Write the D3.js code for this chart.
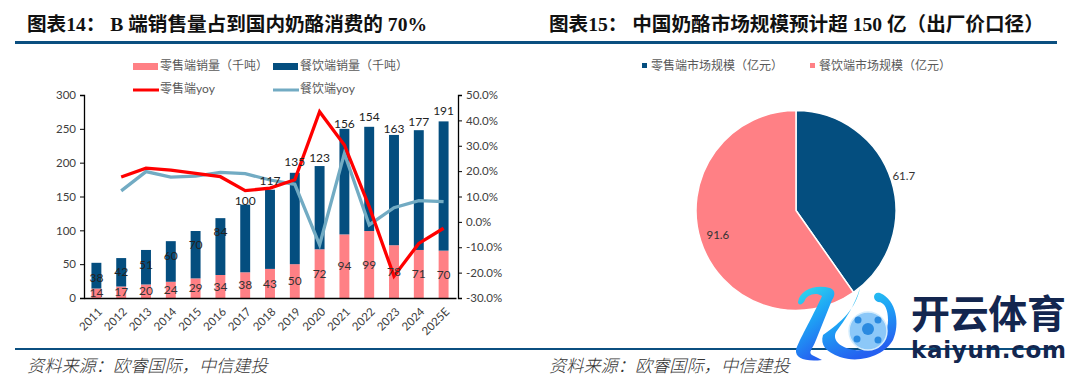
<!DOCTYPE html>
<html>
<head>
<meta charset="utf-8">
<script src="https://cdn.jsdelivr.net/npm/d3@7"></script>
<style>
  html, body { margin: 0; padding: 0; background: #fff; }
  svg { display: block; }
  text { font-family: Lato, "Noto Sans CJK SC", sans-serif; }
</style>
</head>
<body>
<div class="main"></div>
<script>
let years = ['2011','2012','2013','2014','2015','2016','2017','2018','2019','2020','2021','2022','2023','2024','2025E']
let retailSales = [14,17,20,24,29,34,38,43,50,72,94,99,78,71,70]
let foodSales = [38,42,51,60,70,84,100,117,135,123,156,154,163,177,191]
let retailYoy = [null,17.7,21.2,20.4,19.1,17.8,12.3,13.3,16.6,43.4,30.3,6,-21.4,-8.5,-2.5]
let foodYoy = [null,12.2,19.8,17.6,18,19.5,19,16.5,14.8,-9.1,27,-1.2,5.6,8.4,8]
let leftTicks = [0,50,100,150,200,250,300]
let rightTicks = [-30,-20,-10,0,10,20,30,40,50]
let pieNames = ['零售端市场规模（亿元）','餐饮端市场规模（亿元）']
let pieValues = [61.7,91.6]

// the labels were dragged around by hand in the original
let foodLabelNudge = [2,0,-2,-6,-10,-15,-4,-9,-11,-8,-5,-10,-6,-8,-11]
let pieLabelRadius = [113, 82]

let navy = '#044e7f', pink = '#ff8085', red = '#ff0000', teal = '#72abc3'
let grey = '#333333', legendGrey = '#595959', ruleBlue = '#0b4f80'

let svg = d3.select('.main').append('svg').attr('width', 1080).attr('height', 384)

// rules run the full width under both headers
svg.append('rect').attr('x', 15).attr('y', 41).attr('width', 1042).attr('height', 3).attr('fill', ruleBlue)
svg.append('rect').attr('x', 15).attr('y', 348).attr('width', 1042).attr('height', 2).attr('fill', ruleBlue)

function header(x, title) {
  svg.append('text').attr('x', x).attr('y', 31)
    .attr('font-size', 19.6).attr('font-weight', 700).attr('fill', '#111')
    .style('font-family', '"Liberation Serif", "Noto Sans CJK SC", serif')
    .text(title)
  svg.append('text').attr('x', x).attr('y', 372)
    .attr('font-size', 17.2).attr('font-style', 'italic').attr('font-weight', 300).attr('fill', '#333')
    .style('font-family', '"Noto Sans CJK SC", sans-serif')
    .text('资料来源：欧睿国际，中信建投')
}
header(27, '图表14：  B 端销售量占到国内奶酪消费的 70%')
header(549, '图表15：  中国奶酪市场规模预计超 150 亿（出厂价口径）')

// left chart
let x = d3.scaleBand().domain(years).range([84, 456]).paddingInner(0.6).paddingOuter(0.3)
let y = d3.scaleLinear().domain([0, 300]).range([298, 95])
let yRight = d3.scaleLinear().domain([-30, 50]).range([298, 95])

let stackData = years.map((d, i) => ({year: d, retail: retailSales[i], food: foodSales[i], nudge: foodLabelNudge[i], i: i}))

svg.append('g').selectAll('rect').data(stackData).enter().append('rect')
  .attr('x', d => x(d.year))
  .attr('width', x.bandwidth())
  .attr('y', d => y(d.retail))
  .attr('height', d => y(0) - y(d.retail))
  .attr('fill', pink)

svg.append('g').selectAll('rect').data(stackData).enter().append('rect')
  .attr('x', d => x(d.year))
  .attr('width', x.bandwidth())
  .attr('y', d => y(d.retail + d.food))
  .attr('height', d => y(0) - y(d.food))
  .attr('fill', navy)

let line = d3.line()
  .defined(d => d[1] !== null)
  .x(d => x(d[0]) + x.bandwidth() / 2)
  .y(d => yRight(d[1]))

svg.append('path').datum(years.map((d, i) => [d, foodYoy[i]]))
  .attr('d', line).attr('fill', 'none').attr('stroke', teal).attr('stroke-width', 3.3)
svg.append('path').datum(years.map((d, i) => [d, retailYoy[i]]))
  .attr('d', line).attr('fill', 'none').attr('stroke', red).attr('stroke-width', 3.3)

svg.append('g').selectAll('text').data(stackData).enter().append('text')
  .attr('x', d => x(d.year) + x.bandwidth() / 2)
  .attr('y', d => y(d.retail / 2))
  .attr('dy', '0.35em').attr('text-anchor', 'middle').attr('font-size', 12).attr('fill', grey)
  .text(d => d.retail)

svg.append('g').selectAll('text').data(stackData).enter().append('text')
  .attr('x', d => x(d.year) + x.bandwidth() / 2)
  .attr('y', d => (d.i < 6 ? y(d.retail + d.food / 2) : y(d.retail + d.food)) + d.nudge)
  .attr('dy', '0.35em').attr('text-anchor', 'middle').attr('font-size', 12).attr('fill', '#222')
  .text(d => d.food)

let yAxis = d3.axisLeft(y).tickValues(leftTicks).tickSize(4).tickPadding(4)
let yRightAxis = d3.axisRight(yRight).tickValues(rightTicks).tickSize(4).tickPadding(4).tickFormat(d => d.toFixed(1) + '%')
let xAxis = d3.axisBottom(x).tickSize(0).tickPadding(8)

function styleAxis(g) {
  g.selectAll('path').attr('stroke', '#000').attr('stroke-width', 1.3)
  g.selectAll('line').attr('stroke', '#000')
  g.selectAll('text').attr('font-size', 11.5).attr('fill', '#404040').style('font-family', 'Lato, sans-serif')
}

svg.append('g').attr('transform', 'translate(84,0)').call(yAxis).call(styleAxis)
svg.append('g').attr('transform', 'translate(458,0)').call(yRightAxis).call(styleAxis)
svg.append('g').attr('transform', 'translate(0,298)').call(xAxis).call(styleAxis)
  .call(g => g.selectAll('.tick line').remove())
  .selectAll('.tick text')
    .attr('text-anchor', 'end')
    .attr('transform', 'translate(-4,4) rotate(-45)')
    .attr('dy', '0.6em')

// left legend
let legend = svg.append('g').attr('font-size', 12).attr('fill', legendGrey)
legend.append('rect').attr('x', 133).attr('y', 63).attr('width', 25).attr('height', 7).attr('fill', pink)
legend.append('text').attr('x', 160).attr('y', 70).text('零售端销量（千吨）')
legend.append('rect').attr('x', 273).attr('y', 63).attr('width', 25).attr('height', 7).attr('fill', navy)
legend.append('text').attr('x', 300).attr('y', 70).text('餐饮端销量（千吨）')
legend.append('line').attr('x1', 133).attr('x2', 159).attr('y1', 90).attr('y2', 90).attr('stroke', red).attr('stroke-width', 3)
legend.append('text').attr('x', 160).attr('y', 93).text('零售端yoy')
legend.append('line').attr('x1', 273).attr('x2', 299).attr('y1', 90).attr('y2', 90).attr('stroke', teal).attr('stroke-width', 3)
legend.append('text').attr('x', 300).attr('y', 93).text('餐饮端yoy')

// pie
let pieColor = d3.scaleOrdinal().domain(pieNames).range([navy, pink])
let pie = d3.pie().sort(null).value(d => d.value)
let pieData = pie(pieNames.map((d, i) => ({name: d, value: pieValues[i]})))
let arc = d3.arc().innerRadius(0).outerRadius(100)

let pieG = svg.append('g').attr('transform', 'translate(796,210.5)')
pieG.selectAll('path').data(pieData).enter().append('path')
  .attr('d', arc)
  .attr('fill', d => pieColor(d.data.name))
  .attr('stroke', '#fff').attr('stroke-width', 1.5)
pieG.selectAll('text').data(pieData).enter().append('text')
  .attr('transform', (d, i) => `translate(${d3.arc().innerRadius(pieLabelRadius[i]).outerRadius(pieLabelRadius[i]).centroid(d)})`)
  .attr('dy', '0.35em').attr('text-anchor', 'middle').attr('font-size', 11.5).attr('fill', grey)
  .text(d => d.data.value)

let pieLegend = svg.append('g').attr('font-size', 12).attr('fill', legendGrey)
pieLegend.selectAll('rect').data(pieNames).enter().append('rect')
  .attr('x', (d, i) => i ? 810 : 642).attr('y', 63).attr('width', 5).attr('height', 5)
  .attr('fill', d => pieColor(d))
pieLegend.selectAll('text').data(pieNames).enter().append('text')
  .attr('x', (d, i) => i ? 819 : 651).attr('y', 70).text(d => d)

// watermark sits over everything
let defs = svg.append('defs')
let grad = defs.append('linearGradient').attr('id', 'wm').attr('x1', 0).attr('y1', 0).attr('x2', 0.4).attr('y2', 1)
grad.append('stop').attr('offset', '0%').attr('stop-color', '#35e0ea')
grad.append('stop').attr('offset', '50%').attr('stop-color', '#1ea6f5')
grad.append('stop').attr('offset', '100%').attr('stop-color', '#2560f0')

let wm = svg.append('g')
wm.append('path').attr('fill', 'url(#wm)')
  .attr('d', 'M798,302 C800,290 815,284 830,288 C836,290 835,296 832,300 L816,340 C812,350 808,352 812,355 L822,360 C805,362 795,358 796,350 C798,342 812,318 822,296 C815,291 806,296 805,300 C803,305 798,306 798,302 Z')
wm.append('path').attr('fill', 'url(#wm)')
  .attr('d', 'M860,288 C856,308 842,322 823,335 C820,345 826,352 840,357 C860,364 885,355 893,340 C900,325 897,300 880,293 C873,291 872,300 878,302 C885,302 888,310 888,320 C888,340 870,352 855,350 C840,348 832,340 836,332 C845,320 855,305 860,288 Z')
wm.append('circle').attr('cx', 868).attr('cy', 331).attr('r', 19).attr('fill', '#8cc8f8').attr('stroke', '#d5edfd').attr('stroke-width', 1.5)
wm.append('circle').attr('cx', 868).attr('cy', 329).attr('r', 6).attr('fill', '#2a8ae0')
wm.append('circle').attr('cx', 858).attr('cy', 320).attr('r', 3.5).attr('fill', '#2a8ae0')
wm.append('circle').attr('cx', 878).attr('cy', 320).attr('r', 3.5).attr('fill', '#2a8ae0')
wm.append('circle').attr('cx', 857).attr('cy', 339).attr('r', 3.5).attr('fill', '#2a8ae0')
wm.append('circle').attr('cx', 878).attr('cy', 340).attr('r', 3.5).attr('fill', '#2a8ae0')
wm.append('text').attr('x', 911).attr('y', 328)
  .attr('font-size', 39).attr('font-weight', 700).attr('fill', '#13264f').attr('textLength', 155)
  .style('font-family', '"Noto Sans CJK SC", sans-serif')
  .text('开云体育')
wm.append('text').attr('x', 911).attr('y', 358)
  .attr('font-size', 23).attr('font-weight', 700).attr('fill', '#13264f').attr('textLength', 155)
  .style('font-family', '"DejaVu Sans", sans-serif')
  .text('kaiyun.com')
</script>
</body>
</html>
